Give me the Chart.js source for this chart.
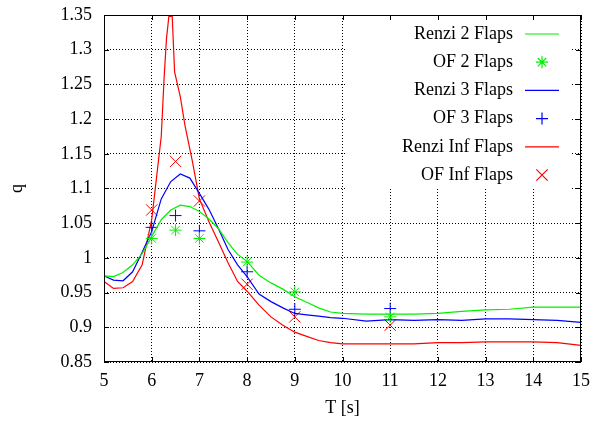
<!DOCTYPE html>
<html>
<head>
<meta charset="utf-8">
<script src="https://cdn.jsdelivr.net/npm/chart.js@4.4.0/dist/chart.umd.min.js"></script>
<style>
html, body { margin: 0; padding: 0; background: #fff; }
</style>
</head>
<body>
<canvas id="myChart" width="594" height="421"></canvas>
<script>
// Renzi curves (2 and 3 flaps share the same T sampling)
const renziT = [5, 5.2, 5.4, 5.6, 5.8, 6, 6.2, 6.4, 6.6, 6.8, 7, 7.2, 7.4, 7.6, 7.8, 8, 8.25, 8.5, 8.75, 9, 9.25, 9.5, 9.75, 10, 10.5, 11, 11.5, 12, 12.5, 13, 13.5, 14, 14.5, 15]
const renzi2 = [0.974, 0.973, 0.979, 0.990, 1.006, 1.031, 1.055, 1.069, 1.076, 1.074, 1.067, 1.056, 1.042, 1.022, 1.005, 0.995, 0.975, 0.964, 0.955, 0.944, 0.936, 0.928, 0.922, 0.920, 0.919, 0.919, 0.919, 0.920, 0.923, 0.925, 0.926, 0.929, 0.929, 0.929]
const renzi3 = [0.974, 0.968, 0.967, 0.980, 1.008, 1.038, 1.085, 1.110, 1.121, 1.115, 1.093, 1.070, 1.042, 1.012, 0.990, 0.973, 0.948, 0.937, 0.928, 0.920, 0.918, 0.916, 0.914, 0.913, 0.909, 0.911, 0.910, 0.911, 0.910, 0.912, 0.912, 0.911, 0.910, 0.907]

const renziInfT = [5, 5.2, 5.4, 5.6, 5.8, 6, 6.1, 6.2, 6.26, 6.31, 6.36, 6.43, 6.48, 6.6, 6.7, 6.85, 7, 7.2, 7.4, 7.6, 7.8, 8, 8.25, 8.5, 8.75, 9, 9.25, 9.5, 9.75, 10, 10.5, 11, 11.5, 12, 12.5, 13, 13.5, 14, 14.5, 15]
const renziInf = [0.966, 0.956, 0.957, 0.966, 0.990, 1.055, 1.115, 1.175, 1.259, 1.316, 1.348, 1.348, 1.268, 1.232, 1.190, 1.140, 1.085, 1.052, 1.023, 0.993, 0.966, 0.952, 0.932, 0.915, 0.903, 0.893, 0.887, 0.881, 0.878, 0.876, 0.876, 0.876, 0.876, 0.878, 0.878, 0.879, 0.879, 0.879, 0.878, 0.874]

// OpenFOAM points
const ofT = [6, 6.5, 7, 8, 9, 11]
const of2 = [1.028, 1.040, 1.028, 0.994, 0.951, 0.915]
const of3 = [1.044, 1.061, 1.039, 0.980, 0.926, 0.927]
const ofInf = [1.069, 1.139, 1.082, 0.962, 0.915, 0.903]

const xTicks = [5, 6, 7, 8, 9, 10, 11, 12, 13, 14, 15]
const yTicks = [0.85, 0.9, 0.95, 1, 1.05, 1.1, 1.15, 1.2, 1.25, 1.3, 1.35]

const serif = "'Liberation Serif', 'Times New Roman', serif"

function pts(xs, ys) {
    return xs.map((x, i) => ({ x: x, y: ys[i] }))
}

// gnuplot style key: text right aligned, sample on the right, opaque box
const keyBox = {
    id: 'keyBox',
    beforeDatasetsDraw(chart) {
        const a = chart.chartArea
        const ctx = chart.ctx
        ctx.save()
        ctx.fillStyle = '#fff'
        ctx.fillRect(a.right - 236, a.top + 1, 226, 173)
        ctx.restore()
    },
    afterDraw(chart) {
        const a = chart.chartArea
        const ctx = chart.ctx
        ctx.save()
        ctx.font = '18px ' + serif
        ctx.textAlign = 'right'
        ctx.textBaseline = 'middle'
        chart.data.datasets.forEach((ds, i) => {
            const y = a.top + 19 + i * 28.2
            ctx.fillStyle = '#000'
            ctx.fillText(ds.label, a.right - 68, y)
            ctx.strokeStyle = ds.borderColor
            ctx.lineWidth = 1.2
            ctx.beginPath()
            if (ds.showLine) {
                ctx.moveTo(a.right - 56, y)
                ctx.lineTo(a.right - 22, y)
            } else {
                const r = ds.pointRadius, cx = a.right - 39
                const d = r * Math.SQRT1_2
                if (ds.pointStyle !== 'crossRot') {
                    ctx.moveTo(cx - r, y); ctx.lineTo(cx + r, y)
                    ctx.moveTo(cx, y - r); ctx.lineTo(cx, y + r)
                }
                if (ds.pointStyle !== 'cross') {
                    ctx.moveTo(cx - d, y - d); ctx.lineTo(cx + d, y + d)
                    ctx.moveTo(cx - d, y + d); ctx.lineTo(cx + d, y - d)
                }
            }
            ctx.stroke()
        })
        // border with inward ticks on all sides
        ctx.strokeStyle = '#000'
        ctx.lineWidth = 1
        ctx.strokeRect(a.left + 0.5, a.top + 0.5, a.right - a.left - 1, a.bottom - a.top - 1)
        ctx.beginPath()
        const xs = chart.scales.x, ys = chart.scales.y
        xTicks.forEach(v => {
            const px = Math.round(xs.getPixelForValue(v)) + 0.5
            ctx.moveTo(px, a.bottom); ctx.lineTo(px, a.bottom - 5)
            ctx.moveTo(px, a.top); ctx.lineTo(px, a.top + 5)
        })
        yTicks.forEach(v => {
            const py = Math.round(ys.getPixelForValue(v)) + 0.5
            ctx.moveTo(a.left, py); ctx.lineTo(a.left + 5, py)
            ctx.moveTo(a.right, py); ctx.lineTo(a.right - 5, py)
        })
        ctx.stroke()
        ctx.restore()
    }
}

var ctx = document.getElementById('myChart').getContext('2d')

let myChart = new Chart(ctx, {
    type: 'scatter',
    plugins: [keyBox],
    data: {
        datasets: [
            { label: 'Renzi 2 Flaps', data: pts(renziT, renzi2), showLine: true, borderColor: '#00f000', borderWidth: 1.2, pointRadius: 0 },
            { label: 'OF 2 Flaps', data: pts(ofT, of2), showLine: false, borderColor: '#00f000', borderWidth: 1, pointStyle: 'star', pointRadius: 6 },
            { label: 'Renzi 3 Flaps', data: pts(renziT, renzi3), showLine: true, borderColor: '#0000ff', borderWidth: 1.2, pointRadius: 0 },
            { label: 'OF 3 Flaps', data: pts(ofT, of3), showLine: false, borderColor: '#0000ff', borderWidth: 1, pointStyle: 'cross', pointRadius: 6 },
            { label: 'Renzi Inf Flaps', data: pts(renziInfT, renziInf), showLine: true, borderColor: '#ff0000', borderWidth: 1.2, pointRadius: 0 },
            { label: 'OF Inf Flaps', data: pts(ofT, ofInf), showLine: false, borderColor: '#ff0000', borderWidth: 1, pointStyle: 'crossRot', pointRadius: 8 }
        ]
    },
    options: {
        responsive: false,
        animation: false,
        devicePixelRatio: 1,
        layout: { padding: { top: 15, right: 13, left: 0, bottom: 0 } },
        plugins: {
            legend: { display: false },
            tooltip: { enabled: false }
        },
        scales: {
            x: {
                type: 'linear',
                min: 5,
                max: 15,
                afterBuildTicks: s => { s.ticks = xTicks.map(v => ({ value: v })) },
                afterFit: s => { s.height = 59; s.paddingLeft = 0; s.paddingRight = 0 },
                ticks: { font: { family: serif, size: 18 }, color: '#000', padding: 8, maxRotation: 0 },
                grid: { color: '#000', lineWidth: 1, drawTicks: false },
                border: { display: false, dash: [1, 2] },
                title: { display: true, text: 'T [s]', font: { family: serif, size: 18 }, color: '#000', padding: { top: 0, bottom: 2 } }
            },
            y: {
                type: 'linear',
                min: 0.85,
                max: 1.35,
                afterBuildTicks: s => { s.ticks = yTicks.map(v => ({ value: v })) },
                afterFit: s => { s.width = 104; s.paddingTop = 0; s.paddingBottom = 0 },
                ticks: { font: { family: serif, size: 18 }, color: '#000', padding: 12, callback: v => String(Number(v.toFixed(2))) },
                grid: { color: '#000', lineWidth: 1, drawTicks: false },
                border: { display: false, dash: [1, 2] },
                title: { display: true, text: 'q', font: { family: serif, size: 18 }, color: '#000', padding: { top: 6, bottom: 0 } }
            }
        }
    }
})
</script>
</body>
</html>
